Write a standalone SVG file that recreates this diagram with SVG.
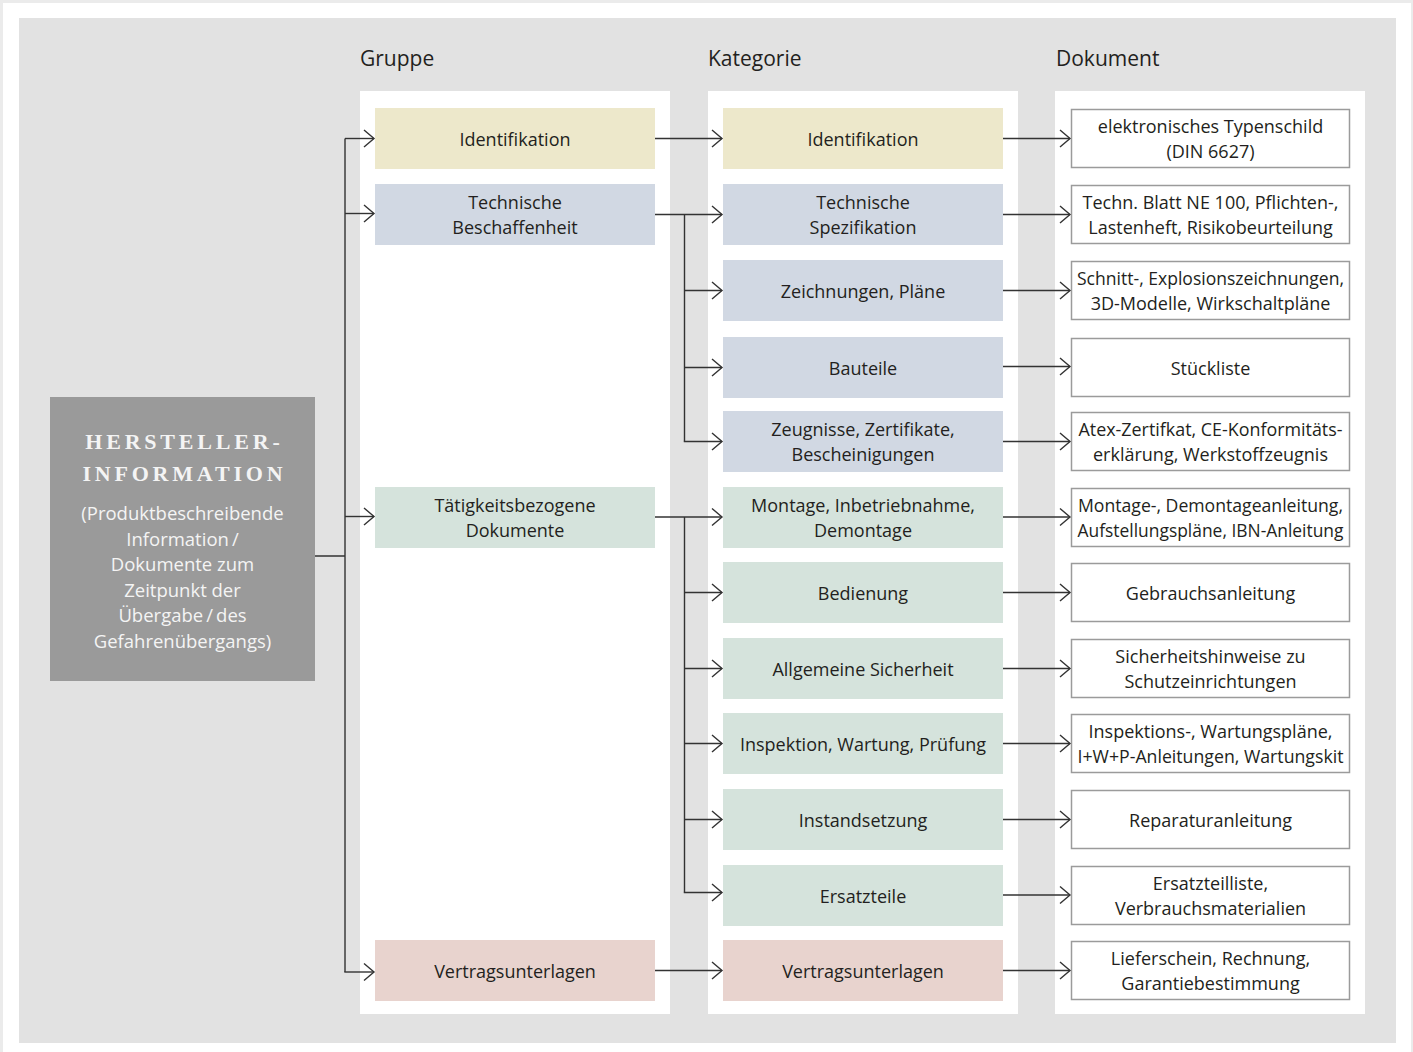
<svg xmlns="http://www.w3.org/2000/svg" width="1413" height="1052" viewBox="0 0 1413 1052">
<defs>
<style>
.t{font-family:"Open Sans","Noto Sans",sans-serif;font-size:18px;fill:#231f20;text-anchor:middle}
.h{font-family:"Open Sans","Noto Sans",sans-serif;font-size:21px;fill:#231f20}
.col{fill:#ffffff}
.y{fill:#ede8cb}
.b{fill:#d1d8e3}
.g{fill:#d5e3dc}
.p{fill:#e8d3ce}
.d{fill:#ffffff;stroke:#9b9b9b;stroke-width:1.5}
.c{fill:none;stroke:#333333;stroke-width:1.4}
.lt{font-family:"Open Sans","Noto Sans",sans-serif;font-size:18.5px;fill:#f4f4f4;text-anchor:middle}
.tt{font-family:"Liberation Serif",serif;font-weight:bold;font-size:22px;letter-spacing:3.8px;fill:#f4f4f4;text-anchor:middle}
</style>
<marker id="ar" markerUnits="userSpaceOnUse" markerWidth="14" markerHeight="22" viewBox="-12 -11 14 22" refX="0" refY="0" orient="auto">
<path d="M-10,-8.5 L0,0 L-10,8.5" fill="none" stroke="#333333" stroke-width="1.4"/>
</marker>
</defs>
<rect x="0" y="0" width="1413" height="1052" fill="#ebebeb"/>
<rect x="3" y="3" width="1408" height="1049" fill="#ffffff"/>
<rect x="19" y="18" width="1377" height="1025" fill="#e2e2e2"/>
<rect class="col" x="360" y="91" width="310" height="923"/>
<rect class="col" x="708" y="91" width="310" height="923"/>
<rect class="col" x="1055" y="91" width="310" height="923"/>
<text class="h" x="360" y="66">Gruppe</text>
<text class="h" x="708" y="66">Kategorie</text>
<text class="h" x="1056" y="66">Dokument</text>

<g id="hersteller">
<rect x="50" y="397" width="265" height="284" fill="#9a9a9a"/>
<text class="tt" x="184.4" y="449">HERSTELLER-</text>
<text class="tt" x="184.4" y="481">INFORMATION</text>
<text class="lt" x="182.5" y="520">(Produktbeschreibende</text>
<text class="lt" x="182.5" y="545.5">Information&#8201;/</text>
<text class="lt" x="182.5" y="571">Dokumente zum</text>
<text class="lt" x="182.5" y="596.5">Zeitpunkt der</text>
<text class="lt" x="182.5" y="622">Übergabe&#8201;/&#8201;des</text>
<text class="lt" x="182.5" y="647.5">Gefahrenübergangs)</text>
</g>

<g id="gruppe-identifikation"><rect class="y" x="375" y="108" width="280" height="61"/><text class="t" x="515" y="145.5">Identifikation</text></g>
<g id="gruppe-technische-beschaffenheit"><rect class="b" x="375" y="184" width="280" height="61"/><text class="t" x="515" y="208.5">Technische</text><text class="t" x="515" y="234">Beschaffenheit</text></g>
<g id="gruppe-taetigkeitsbezogene-dokumente"><rect class="g" x="375" y="487" width="280" height="61"/><text class="t" x="515" y="511.5">Tätigkeitsbezogene</text><text class="t" x="515" y="537">Dokumente</text></g>
<g id="gruppe-vertragsunterlagen"><rect class="p" x="375" y="940" width="280" height="61"/><text class="t" x="515" y="977.5">Vertragsunterlagen</text></g>

<g id="kat-identifikation"><rect class="y" x="723" y="108" width="280" height="61"/><text class="t" x="863" y="145.5">Identifikation</text></g>
<g id="kat-technische-spezifikation"><rect class="b" x="723" y="184" width="280" height="61"/><text class="t" x="863" y="208.5">Technische</text><text class="t" x="863" y="234">Spezifikation</text></g>
<g id="kat-zeichnungen"><rect class="b" x="723" y="260" width="280" height="61"/><text class="t" x="863" y="297.5">Zeichnungen, Pläne</text></g>
<g id="kat-bauteile"><rect class="b" x="723" y="337" width="280" height="61"/><text class="t" x="863" y="374.5">Bauteile</text></g>
<g id="kat-zeugnisse"><rect class="b" x="723" y="411" width="280" height="61"/><text class="t" x="863" y="435.5">Zeugnisse, Zertifikate,</text><text class="t" x="863" y="461">Bescheinigungen</text></g>
<g id="kat-montage"><rect class="g" x="723" y="487" width="280" height="61"/><text class="t" x="863" y="511.5">Montage, Inbetriebnahme,</text><text class="t" x="863" y="537">Demontage</text></g>
<g id="kat-bedienung"><rect class="g" x="723" y="562" width="280" height="61"/><text class="t" x="863" y="599.5">Bedienung</text></g>
<g id="kat-sicherheit"><rect class="g" x="723" y="638" width="280" height="61"/><text class="t" x="863" y="675.5">Allgemeine Sicherheit</text></g>
<g id="kat-inspektion"><rect class="g" x="723" y="713" width="280" height="61"/><text class="t" x="863" y="750.5">Inspektion, Wartung, Prüfung</text></g>
<g id="kat-instandsetzung"><rect class="g" x="723" y="789" width="280" height="61"/><text class="t" x="863" y="826.5">Instandsetzung</text></g>
<g id="kat-ersatzteile"><rect class="g" x="723" y="865" width="280" height="61"/><text class="t" x="863" y="902.5">Ersatzteile</text></g>
<g id="kat-vertragsunterlagen"><rect class="p" x="723" y="940" width="280" height="61"/><text class="t" x="863" y="977.5">Vertragsunterlagen</text></g>

<g id="dok-typenschild"><rect class="d" x="1071.5" y="109.5" width="278" height="58"/><text class="t" x="1210.5" y="132.5">elektronisches Typenschild</text><text class="t" x="1210.5" y="158">(DIN 6627)</text></g>
<g id="dok-techn-blatt"><rect class="d" x="1071.5" y="185.5" width="278" height="58"/><text class="t" x="1210.5" y="208.5">Techn. Blatt NE 100, Pflichten-,</text><text class="t" x="1210.5" y="234">Lastenheft, Risikobeurteilung</text></g>
<g id="dok-schnitt"><rect class="d" x="1071.5" y="261.5" width="278" height="58"/><text class="t" x="1210.5" y="284.5" textLength="267" lengthAdjust="spacingAndGlyphs">Schnitt-, Explosionszeichnungen,</text><text class="t" x="1210.5" y="310">3D-Modelle, Wirkschaltpläne</text></g>
<g id="dok-stueckliste"><rect class="d" x="1071.5" y="338.5" width="278" height="58"/><text class="t" x="1210.5" y="374.5">Stückliste</text></g>
<g id="dok-atex"><rect class="d" x="1071.5" y="412.5" width="278" height="58"/><text class="t" x="1210.5" y="435.5" textLength="264" lengthAdjust="spacingAndGlyphs">Atex-Zertifkat, CE-Konformitäts-</text><text class="t" x="1210.5" y="461">erklärung, Werkstoffzeugnis</text></g>
<g id="dok-montage"><rect class="d" x="1071.5" y="488.5" width="278" height="58"/><text class="t" x="1210.5" y="511.5" textLength="265" lengthAdjust="spacingAndGlyphs">Montage-, Demontageanleitung,</text><text class="t" x="1210.5" y="537" textLength="266" lengthAdjust="spacingAndGlyphs">Aufstellungspläne, IBN-Anleitung</text></g>
<g id="dok-gebrauch"><rect class="d" x="1071.5" y="563.5" width="278" height="58"/><text class="t" x="1210.5" y="599.5">Gebrauchsanleitung</text></g>
<g id="dok-sicherheit"><rect class="d" x="1071.5" y="639.5" width="278" height="58"/><text class="t" x="1210.5" y="662.5">Sicherheitshinweise zu</text><text class="t" x="1210.5" y="688">Schutzeinrichtungen</text></g>
<g id="dok-inspektion"><rect class="d" x="1071.5" y="714.5" width="278" height="58"/><text class="t" x="1210.5" y="737.5">Inspektions-, Wartungspläne,</text><text class="t" x="1210.5" y="763" textLength="266" lengthAdjust="spacingAndGlyphs">I+W+P-Anleitungen, Wartungskit</text></g>
<g id="dok-reparatur"><rect class="d" x="1071.5" y="790.5" width="278" height="58"/><text class="t" x="1210.5" y="826.5">Reparaturanleitung</text></g>
<g id="dok-ersatzteil"><rect class="d" x="1071.5" y="866.5" width="278" height="58"/><text class="t" x="1210.5" y="889.5">Ersatzteilliste,</text><text class="t" x="1210.5" y="915">Verbrauchsmaterialien</text></g>
<g id="dok-liefer"><rect class="d" x="1071.5" y="941.5" width="278" height="58"/><text class="t" x="1210.5" y="964.5">Lieferschein, Rechnung,</text><text class="t" x="1210.5" y="990">Garantiebestimmung</text></g>

<g id="connectors">
<path class="c" d="M315,556 H345 M345,138.5 V972"/>
<path class="c" d="M345,138.5 H374" marker-end="url(#ar)"/>
<path class="c" d="M345,213.5 H374" marker-end="url(#ar)"/>
<path class="c" d="M345,516.5 H374" marker-end="url(#ar)"/>
<path class="c" d="M344.3,972 H374" marker-end="url(#ar)"/>
<path class="c" d="M655,138.5 H722" marker-end="url(#ar)"/>
<path class="c" d="M655,214.5 H722" marker-end="url(#ar)"/>
<path class="c" d="M684.5,214.5 V441.5"/>
<path class="c" d="M684.5,290.5 H722" marker-end="url(#ar)"/>
<path class="c" d="M684.5,367.5 H722" marker-end="url(#ar)"/>
<path class="c" d="M683.8,441.5 H722" marker-end="url(#ar)"/>
<path class="c" d="M655,517 H722" marker-end="url(#ar)"/>
<path class="c" d="M684.5,517 V892.5"/>
<path class="c" d="M684.5,592.5 H722" marker-end="url(#ar)"/>
<path class="c" d="M684.5,668.5 H722" marker-end="url(#ar)"/>
<path class="c" d="M684.5,743.5 H722" marker-end="url(#ar)"/>
<path class="c" d="M684.5,819.5 H722" marker-end="url(#ar)"/>
<path class="c" d="M683.8,892.5 H722" marker-end="url(#ar)"/>
<path class="c" d="M655,970.5 H722" marker-end="url(#ar)"/>
<path class="c" d="M1003,138.5 H1070" marker-end="url(#ar)"/>
<path class="c" d="M1003,214.5 H1070" marker-end="url(#ar)"/>
<path class="c" d="M1003,290.5 H1070" marker-end="url(#ar)"/>
<path class="c" d="M1003,366.5 H1070" marker-end="url(#ar)"/>
<path class="c" d="M1003,441.5 H1070" marker-end="url(#ar)"/>
<path class="c" d="M1003,517 H1070" marker-end="url(#ar)"/>
<path class="c" d="M1003,592.5 H1070" marker-end="url(#ar)"/>
<path class="c" d="M1003,668.5 H1070" marker-end="url(#ar)"/>
<path class="c" d="M1003,743.5 H1070" marker-end="url(#ar)"/>
<path class="c" d="M1003,819.5 H1070" marker-end="url(#ar)"/>
<path class="c" d="M1003,895 H1070" marker-end="url(#ar)"/>
<path class="c" d="M1003,970.5 H1070" marker-end="url(#ar)"/>
</g>
</svg>
